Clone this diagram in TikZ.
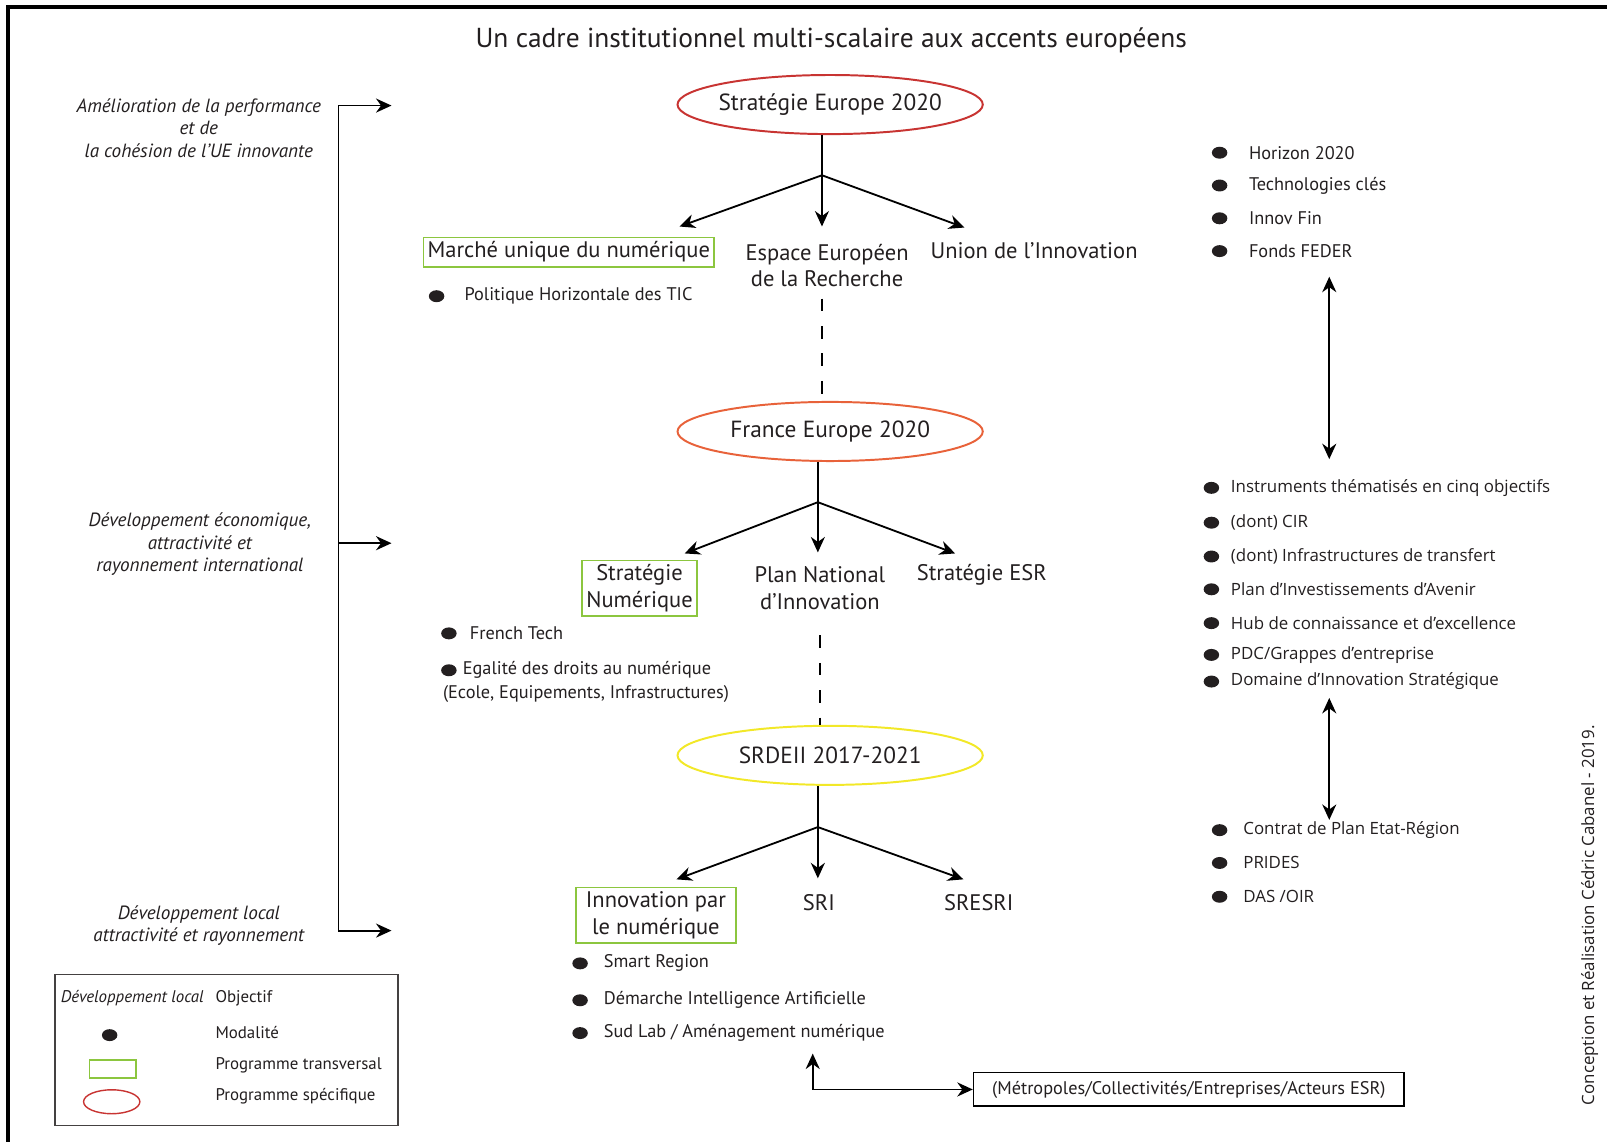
\documentclass[tikz,border=0pt]{standalone}
\usepackage{fontspec}
\setmainfont{PT Sans}
\newfontfamily\opensans{Open Sans}
\usetikzlibrary{arrows.meta, positioning, shapes.geometric, calc}

\definecolor{rougeeu}{RGB}{200,52,50}
\definecolor{orangefr}{RGB}{232,98,58}
\definecolor{jaunereg}{RGB}{242,232,40}
\definecolor{vertprog}{RGB}{140,198,63}
\definecolor{texte}{RGB}{35,31,32}

\tikzset{
  titre/.style={font=\fontsize{19.5}{23}\selectfont},
  intitule/.style={font=\fontsize{16}{19}\selectfont, align=center, inner sep=2pt},
  transv/.style={intitule, draw=vertprog, line width=1.2pt, inner xsep=3pt, inner ysep=3pt},
  specif/.style={ellipse, draw=#1, line width=1.4pt, inner sep=0pt,
    minimum width=217pt, minimum height=42pt},
  ovale/.style={font=\fontsize{16.6}{19}\selectfont},
  objectif/.style={font=\itshape\fontsize{13.6}{16}\selectfont, align=center},
  puce/.style={ellipse, fill=texte, minimum width=11pt, minimum height=8.5pt, inner sep=0pt},
  modal/.style={font=\fontsize{13}{16}\selectfont, anchor=west, inner sep=0pt},
  modald/.style={font=\opensans\fontsize{12}{14}\selectfont, anchor=west, inner sep=0pt},
  legtxt/.style={font=\fontsize{12}{14}\selectfont, anchor=west, inner sep=0pt},
  fleche/.style={-{Stealth[length=11pt, width=10pt]}, line width=1.3pt},
  bifleche/.style={{Stealth[length=11pt, width=10pt]}-{Stealth[length=11pt, width=10pt]}, line width=1.3pt},
  pointille/.style={line width=1.3pt, dash pattern=on 9pt off 10.5pt},
}

\begin{document}
\begin{tikzpicture}[x=0.0256cm, y=-0.0256cm, text=texte]
  \useasboundingbox (0,0) rectangle (1568,1114);
  \draw[line width=2.8pt] (8,1114) -- (8,7) -- (1568,7);

  \node[titre] (titre) at (811,39) {Un cadre institutionnel multi-scalaire aux accents européens};

  % objectifs
  \node[objectif] (obj1) at (194,125) {Amélioration de la performance\\et de\\la cohésion de l’UE innovante};
  \node[objectif] (obj2) at (195,531) {Développement économique,\\attractivité et\\rayonnement international};
  \node[objectif] (obj3) at (194,903) {Développement local\\attractivité et rayonnement};
  \coordinate (g1) at (330,103);
  \coordinate (g2) at (330,530);
  \coordinate (g3) at (330,908);
  \coordinate (f1) at (382,103);
  \coordinate (f2) at (382,530);
  \coordinate (f3) at (382,908);
  \draw[line width=1pt] (g1) -- (g3);
  \draw[fleche] (g1) -- (f1);
  \draw[fleche] (g2) -- (f2);
  \draw[fleche] (g3) -- (f3);

  % echelle europeenne
  \node[specif=rougeeu, label={[ovale]center:Stratégie Europe 2020}] (eu) at (810,102) {};
  \coordinate (n1) at (802,171);
  \node[transv] (mun) at (555,246) {Marché unique du numérique};
  \node[intitule] (era) at (807,259) {Espace Européen\\de la Recherche};
  \node[intitule] (uni) at (1009,245) {Union de l’Innovation};
  \coordinate (t11) at (663,221);
  \coordinate (t12) at (802,221);
  \coordinate (t13) at (941,222);
  \draw[line width=1.3pt] (eu.south -| n1) -- (n1);
  \draw[fleche] (n1) -- (t11);
  \draw[fleche] (n1) -- (t12);
  \draw[fleche] (n1) -- (t13);
  \node[puce] (pe1) at (426,289) {};
  \node[modal, right=14pt of pe1] (me1) {Politique Horizontale des TIC};

  % echelle nationale
  \node[specif=orangefr, label={[ovale]center:France Europe 2020}] (fr) at (810,421) {};
  \draw[pointille, shorten <=6pt] (era.south -| n1) -- (fr.north -| n1);
  \coordinate (n2) at (798,490);
  \node[transv] (snum) at (624,574) {Stratégie\\Numérique};
  \node[intitule] (pni) at (800,574) {Plan National\\d’Innovation};
  \node[intitule] (sesr) at (958,561) {Stratégie ESR};
  \coordinate (t21) at (668,540);
  \coordinate (t22) at (798,539);
  \coordinate (t23) at (932,540);
  \draw[line width=1.3pt] (fr.south -| n2) -- (n2);
  \draw[fleche] (n2) -- (t21);
  \draw[fleche] (n2) -- (t22);
  \draw[fleche] (n2) -- (t23);
  \node[puce] (pf1) at (438,618) {};
  \node[modal, right=9pt of pf1] (mf1) {French Tech};
  \node[puce] (pf2) at (438,654) {};
  \node[modal, right=4pt of pf2] (mf2) {Egalité des droits au numérique};
  \node[modal] (mf3) at (432,677) {(Ecole, Equipements, Infrastructures)};

  % echelle regionale
  \node[specif=jaunereg, label={[ovale]center:SRDEII 2017-2021}] (sr) at (810,737) {};
  \draw[pointille, shorten <=16pt] (pni.south) -- (sr.north -| pni);
  \coordinate (n3) at (798,807);
  \node[transv, inner xsep=7pt] (inum) at (640,893) {Innovation par\\le numérique};
  \node[intitule] (sri) at (799,881) {SRI};
  \node[intitule] (sresri) at (955,881) {SRESRI};
  \coordinate (t31) at (660,858);
  \coordinate (t32) at (798,857);
  \coordinate (t33) at (940,858);
  \draw[line width=1.3pt] (sr.south -| n3) -- (n3);
  \draw[fleche] (n3) -- (t31);
  \draw[fleche] (n3) -- (t32);
  \draw[fleche] (n3) -- (t33);
  \foreach \y/\t [count=\i] in {940/Smart Region, 976/Démarche Intelligence Artificielle, 1008/{Sud Lab / Aménagement numérique}} {
    \node[puce] (pr\i) at (566,\y) {};
    \node[modal, right=11pt of pr\i] (mr\i) {\t};
  }
  \node[draw, line width=1.2pt, font=\fontsize{13}{15}\selectfont,
        minimum width=306pt, minimum height=24pt] (acteurs) at (1160,1063) {(Métropoles/Collectivités/Entreprises/Acteurs ESR)};
  \coordinate (c0) at (793,1028);
  \draw[bifleche] (c0) |- (acteurs.west);

  % instruments
  \foreach \t [count=\i] in {Horizon 2020, Technologies clés, Innov Fin, Fonds FEDER} {
    \node[puce] (ph\i) at (1190,117+32*\i) {};
    \node[modal, right=15pt of ph\i] (mh\i) {\t};
  }
  \foreach \y/\t [count=\i] in {476/Instruments thématisés en cinq objectifs, 510/(dont) CIR,
      543/(dont) Infrastructures de transfert, 575/Plan d’Investissements d’Avenir,
      608/Hub de connaissance et d’excellence, 639/{PDC/Grappes d’entreprise},
      665/Domaine d’Innovation Stratégique} {
    \node[puce] (pn\i) at (1182,\y) {};
    \node[modald, right=8pt of pn\i] (mn\i) {\t};
  }
  \foreach \y/\t [count=\i] in {810/Contrat de Plan Etat-Région, 842/PRIDES, 875/{DAS /OIR}} {
    \node[puce] (pl\i) at (1190,\y) {};
    \node[modald, right=11pt of pl\i] (ml\i) {\t};
  }
  \coordinate (d1) at (1297,270);
  \coordinate (d2) at (1297,448);
  \coordinate (d3) at (1297,681);
  \coordinate (d4) at (1297,800);
  \draw[bifleche] (d1) -- (d2);
  \draw[bifleche] (d3) -- (d4);

  % legende
  \node[draw=texte!85, line width=1pt, minimum width=244pt, minimum height=107pt] (legende) at (221,1024.5) {};
  \node[font=\itshape\fontsize{12}{14}\selectfont, anchor=west, inner sep=0pt] (lobj) at (59,974) {Développement local};
  \node[legtxt] (lobjt) at (210,974) {Objectif};
  \node[puce] (lpuce) at (107,1010) {};
  \node[legtxt] (lpucet) at (210,1007) {Modalité};
  \node[draw=vertprog, line width=1pt, minimum width=33pt, minimum height=13pt, inner sep=0pt] (lrect) at (110,1043) {};
  \node[legtxt] (lrectt) at (210,1039) {Programme transversal};
  \node[specif=rougeeu, line width=1pt, minimum width=40pt, minimum height=17pt] (lell) at (109,1075) {};
  \node[legtxt] (lellt) at (210,1070) {Programme spécifique};

  \node[rotate=90, font=\opensans\fontsize{12}{14}\selectfont] (credit) at (1551,893) {Conception et Réalisation Cédric Cabanel - 2019.};
\end{tikzpicture}
\end{document}
